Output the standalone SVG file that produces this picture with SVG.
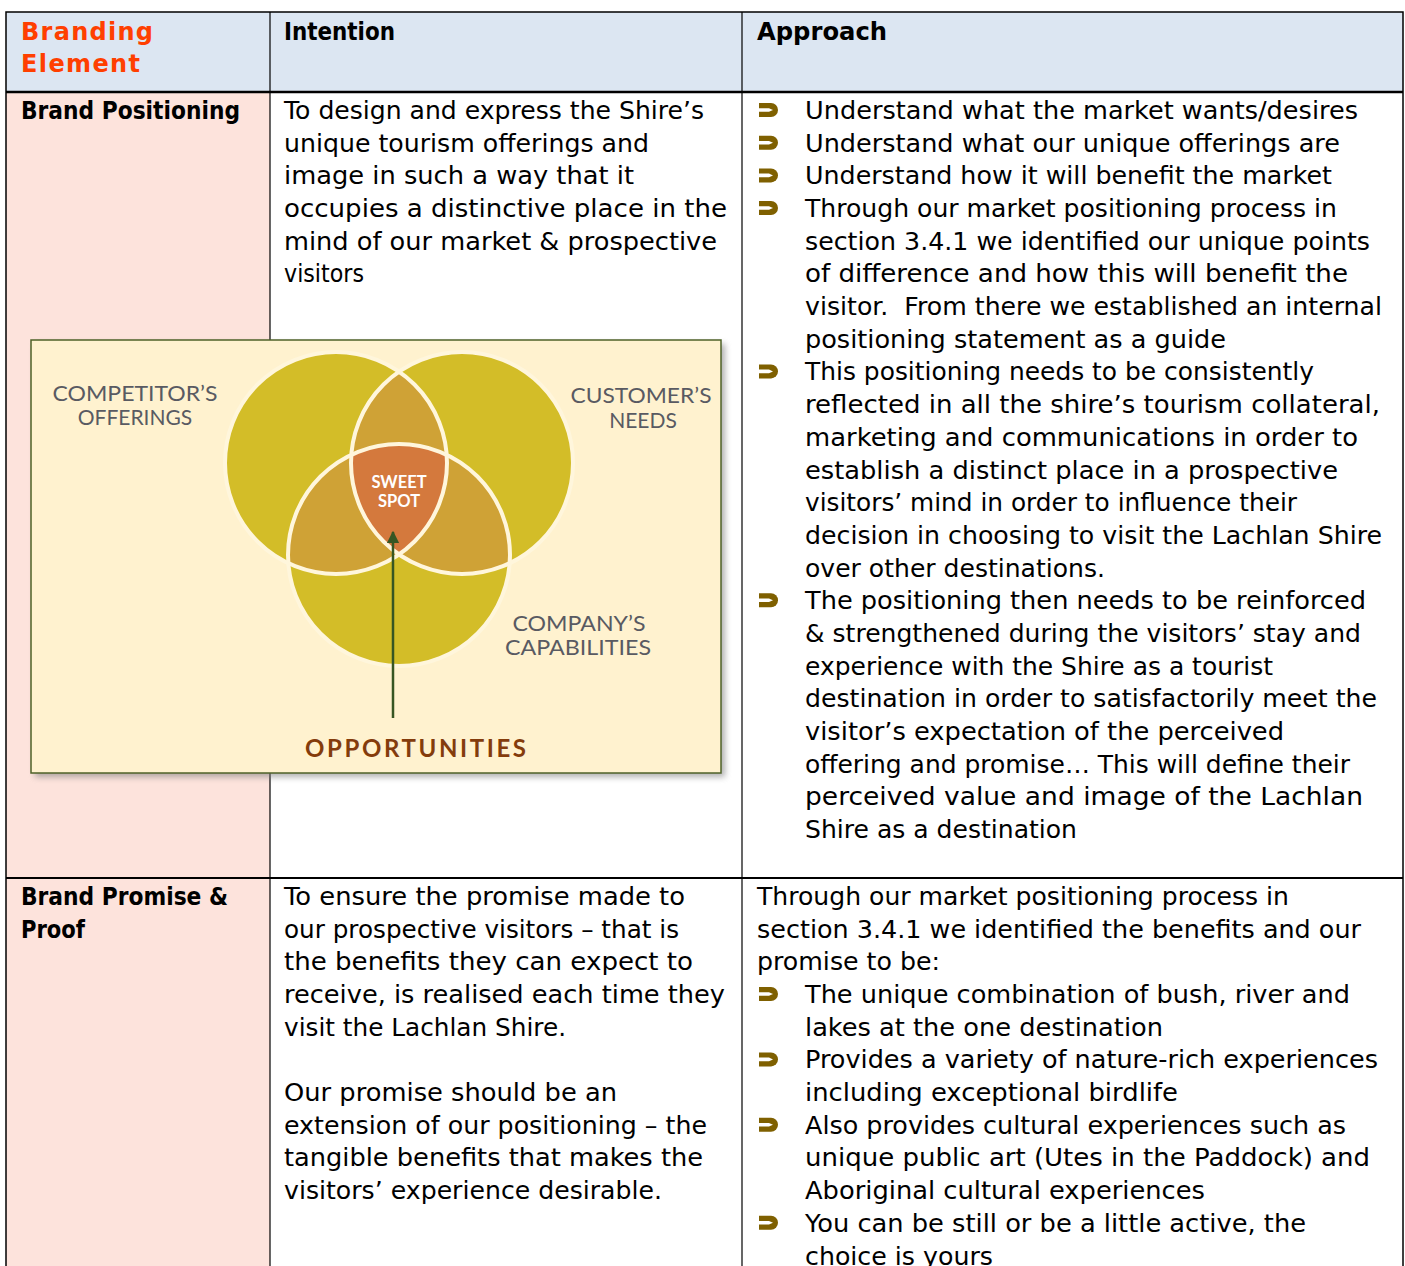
<svg xmlns="http://www.w3.org/2000/svg" width="1405" height="1266" viewBox="0 0 1405 1266">
<style>
.t{font-family:"DejaVu Sans",sans-serif;font-size:25px;fill:#000}
.b{font-family:"DejaVu Sans",sans-serif;font-size:24px;font-weight:bold;fill:#000}
.h{font-family:"DejaVu Sans",sans-serif;font-size:24px;font-weight:bold;fill:#FF3F00}
.v{font-family:Lato,"Liberation Sans",sans-serif;font-size:21px;fill:#595A62;text-anchor:middle}
.s{font-family:Lato,"Liberation Sans",sans-serif;font-size:16.5px;font-weight:bold;fill:#fff;text-anchor:middle}
.o{font-family:Lato,"Liberation Sans",sans-serif;font-size:24px;font-weight:bold;fill:#843C0C}
.grid{stroke:#000;fill:none}
</style>
<defs>
<g id="bul">
<path d="M0,0 H12 A7,7 0 0 1 12,14 H0 Z" fill="#7F6000"/>
<path d="M0,5.2 H10 L14,7 L10,8.8 H0 Z" fill="#fff"/>
</g>
<clipPath id="cL"><circle cx="336" cy="463" r="111"/></clipPath>
<clipPath id="cR"><circle cx="462" cy="463" r="111"/></clipPath>
<clipPath id="cB"><circle cx="399" cy="555" r="111"/></clipPath>
<filter id="sh" x="-5%" y="-5%" width="115%" height="120%"><feGaussianBlur stdDeviation="3"/></filter>
<marker id="ah" viewBox="0 0 10 10" refX="9" refY="5" markerWidth="5" markerHeight="5" orient="auto"><path d="M0,0 L10,5 L0,10 Z" fill="#375623"/></marker>
</defs>

<g id="backgrounds">
<rect x="6" y="12" width="1397" height="80" fill="#DCE6F2"/>
<rect x="6" y="92" width="264" height="1174" fill="#FDE3DC"/>
<rect x="270" y="92" width="1133" height="1174" fill="#fff"/>
</g>

<g id="connectors">
<rect x="6" y="12" width="1397" height="1260" class="grid" stroke-width="1.5"/>
<line x1="270" y1="12" x2="270" y2="1266" class="grid" stroke-width="1.2"/>
<line x1="742" y1="12" x2="742" y2="1266" class="grid" stroke-width="1.2"/>
<line x1="6" y1="92" x2="1403" y2="92" class="grid" stroke-width="2.5"/>
<line x1="6" y1="878" x2="1403" y2="878" class="grid" stroke-width="2"/>
</g>

<g id="header">
<text class="h" x="21" y="40" textLength="132" lengthAdjust="spacing">Branding</text>
<text class="h" x="21" y="72" textLength="119" lengthAdjust="spacing">Element</text>
<text class="b" x="284" y="40" textLength="111" lengthAdjust="spacingAndGlyphs">Intention</text>
<text class="b" x="757" y="40" textLength="130" lengthAdjust="spacingAndGlyphs">Approach</text>
</g>

<g id="row-positioning">
<text class="b" x="21" y="119" textLength="219" lengthAdjust="spacingAndGlyphs">Brand Positioning</text>
<g id="pos-intention">
<text class="t" x="284" y="119" textLength="420" lengthAdjust="spacingAndGlyphs">To design and express the Shire’s</text>
<text class="t" x="284" y="151.7" textLength="365" lengthAdjust="spacingAndGlyphs">unique tourism offerings and</text>
<text class="t" x="284" y="184.4" textLength="350" lengthAdjust="spacingAndGlyphs">image in such a way that it</text>
<text class="t" x="284" y="217" textLength="443" lengthAdjust="spacingAndGlyphs">occupies a distinctive place in the</text>
<text class="t" x="284" y="249.7" textLength="433" lengthAdjust="spacingAndGlyphs">mind of our market &amp; prospective</text>
<text class="t" x="284" y="282.4" textLength="80" lengthAdjust="spacingAndGlyphs">visitors</text>
</g>
<g id="pos-approach">
<use href="#bul" x="759" y="103"/>
<use href="#bul" x="759" y="135.7"/>
<use href="#bul" x="759" y="168.4"/>
<use href="#bul" x="759" y="201"/>
<use href="#bul" x="759" y="364.4"/>
<use href="#bul" x="759" y="593.2"/>
<text class="t" x="805" y="119" textLength="553" lengthAdjust="spacingAndGlyphs">Understand what the market wants/desires</text>
<text class="t" x="805" y="151.7" textLength="535" lengthAdjust="spacingAndGlyphs">Understand what our unique offerings are</text>
<text class="t" x="805" y="184.4" textLength="527" lengthAdjust="spacingAndGlyphs">Understand how it will benefit the market</text>
<text class="t" x="805" y="217" textLength="532" lengthAdjust="spacingAndGlyphs">Through our market positioning process in</text>
<text class="t" x="805" y="249.7" textLength="565" lengthAdjust="spacingAndGlyphs">section 3.4.1 we identified our unique points</text>
<text class="t" x="805" y="282.4" textLength="543" lengthAdjust="spacingAndGlyphs">of difference and how this will benefit the</text>
<text class="t" x="805" y="315.1" textLength="577" lengthAdjust="spacingAndGlyphs" xml:space="preserve">visitor.  From there we established an internal</text>
<text class="t" x="805" y="347.8" textLength="421" lengthAdjust="spacingAndGlyphs">positioning statement as a guide</text>
<text class="t" x="805" y="380.4" textLength="509" lengthAdjust="spacingAndGlyphs">This positioning needs to be consistently</text>
<text class="t" x="805" y="413.1" textLength="575" lengthAdjust="spacingAndGlyphs">reflected in all the shire’s tourism collateral,</text>
<text class="t" x="805" y="445.8" textLength="553" lengthAdjust="spacingAndGlyphs">marketing and communications in order to</text>
<text class="t" x="805" y="478.5" textLength="533" lengthAdjust="spacingAndGlyphs">establish a distinct place in a prospective</text>
<text class="t" x="805" y="511.2" textLength="492" lengthAdjust="spacingAndGlyphs">visitors’ mind in order to influence their</text>
<text class="t" x="805" y="543.8" textLength="577" lengthAdjust="spacingAndGlyphs">decision in choosing to visit the Lachlan Shire</text>
<text class="t" x="805" y="576.5" textLength="300" lengthAdjust="spacingAndGlyphs">over other destinations.</text>
<text class="t" x="805" y="609.2" textLength="561" lengthAdjust="spacingAndGlyphs">The positioning then needs to be reinforced</text>
<text class="t" x="805" y="641.9" textLength="556" lengthAdjust="spacingAndGlyphs">&amp; strengthened during the visitors’ stay and</text>
<text class="t" x="805" y="674.6" textLength="468" lengthAdjust="spacingAndGlyphs">experience with the Shire as a tourist</text>
<text class="t" x="805" y="707.2" textLength="572" lengthAdjust="spacingAndGlyphs">destination in order to satisfactorily meet the</text>
<text class="t" x="805" y="739.9" textLength="479" lengthAdjust="spacingAndGlyphs">visitor’s expectation of the perceived</text>
<text class="t" x="805" y="772.6" textLength="545" lengthAdjust="spacingAndGlyphs">offering and promise… This will define their</text>
<text class="t" x="805" y="805.3" textLength="558" lengthAdjust="spacingAndGlyphs">perceived value and image of the Lachlan</text>
<text class="t" x="805" y="838" textLength="272" lengthAdjust="spacingAndGlyphs">Shire as a destination</text>
</g>
</g>

<g id="venn">
<rect x="35" y="344" width="690" height="433" fill="#7a7a7a" opacity="0.6" filter="url(#sh)"/>
<rect x="31" y="340" width="690" height="433" fill="#FFF2CF" stroke="#4F6228" stroke-width="1.5"/>
<circle cx="336" cy="463" r="111" fill="#D3BD28"/>
<circle cx="462" cy="463" r="111" fill="#D3BD28"/>
<circle cx="399" cy="555" r="111" fill="#D3BD28"/>
<g clip-path="url(#cL)"><circle cx="462" cy="463" r="111" fill="#CFA236"/><circle cx="399" cy="555" r="111" fill="#CFA236"/></g>
<g clip-path="url(#cR)"><circle cx="399" cy="555" r="111" fill="#CFA236"/></g>
<g clip-path="url(#cL)"><g clip-path="url(#cR)"><circle cx="399" cy="555" r="111" fill="#D4793D"/></g></g>
<g fill="none" stroke="#FFF6DC" stroke-width="4">
<circle cx="336" cy="463" r="111"/>
<circle cx="462" cy="463" r="111"/>
<circle cx="399" cy="555" r="111"/>
</g>
<text class="v" x="135" y="401" textLength="165" lengthAdjust="spacingAndGlyphs">COMPETITOR’S</text>
<text class="v" x="135" y="425">OFFERINGS</text>
<text class="v" x="641" y="403" textLength="141" lengthAdjust="spacingAndGlyphs">CUSTOMER’S</text>
<text class="v" x="643" y="428">NEEDS</text>
<text class="v" x="579" y="631" textLength="133" lengthAdjust="spacingAndGlyphs">COMPANY’S</text>
<text class="v" x="578" y="655" textLength="146" lengthAdjust="spacingAndGlyphs">CAPABILITIES</text>
<text class="s" x="399" y="488">SWEET</text>
<text class="s" x="399" y="507">SPOT</text>
<line x1="393" y1="718" x2="393" y2="532" stroke="#375623" stroke-width="2.5" marker-end="url(#ah)"/>
<text class="o" x="305" y="757" textLength="221" lengthAdjust="spacing">OPPORTUNITIES</text>
</g>

<g id="row-promise">
<text class="b" x="21" y="905" textLength="207" lengthAdjust="spacingAndGlyphs">Brand Promise &amp;</text>
<text class="b" x="21" y="938" textLength="64" lengthAdjust="spacingAndGlyphs">Proof</text>
<g id="prom-intention">
<text class="t" x="284" y="905" textLength="401" lengthAdjust="spacingAndGlyphs">To ensure the promise made to</text>
<text class="t" x="284" y="937.7" textLength="395" lengthAdjust="spacingAndGlyphs">our prospective visitors – that is</text>
<text class="t" x="284" y="970.4" textLength="409" lengthAdjust="spacingAndGlyphs">the benefits they can expect to</text>
<text class="t" x="284" y="1003" textLength="441" lengthAdjust="spacingAndGlyphs">receive, is realised each time they</text>
<text class="t" x="284" y="1035.7" textLength="282" lengthAdjust="spacingAndGlyphs">visit the Lachlan Shire.</text>
<text class="t" x="284" y="1101.1" textLength="333" lengthAdjust="spacingAndGlyphs">Our promise should be an</text>
<text class="t" x="284" y="1133.8" textLength="423" lengthAdjust="spacingAndGlyphs">extension of our positioning – the</text>
<text class="t" x="284" y="1166.4" textLength="419" lengthAdjust="spacingAndGlyphs">tangible benefits that makes the</text>
<text class="t" x="284" y="1199.1" textLength="378" lengthAdjust="spacingAndGlyphs">visitors’ experience desirable.</text>
</g>
<g id="prom-approach">
<text class="t" x="757" y="905" textLength="532" lengthAdjust="spacingAndGlyphs">Through our market positioning process in</text>
<text class="t" x="757" y="937.7" textLength="604" lengthAdjust="spacingAndGlyphs">section 3.4.1 we identified the benefits and our</text>
<text class="t" x="757" y="970.4" textLength="183" lengthAdjust="spacingAndGlyphs">promise to be:</text>
<use href="#bul" x="759" y="987"/>
<use href="#bul" x="759" y="1052.4"/>
<use href="#bul" x="759" y="1117.8"/>
<use href="#bul" x="759" y="1215.8"/>
<text class="t" x="805" y="1003" textLength="545" lengthAdjust="spacingAndGlyphs">The unique combination of bush, river and</text>
<text class="t" x="805" y="1035.7" textLength="358" lengthAdjust="spacingAndGlyphs">lakes at the one destination</text>
<text class="t" x="805" y="1068.4" textLength="573" lengthAdjust="spacingAndGlyphs">Provides a variety of nature-rich experiences</text>
<text class="t" x="805" y="1101.1" textLength="373" lengthAdjust="spacingAndGlyphs">including exceptional birdlife</text>
<text class="t" x="805" y="1133.8" textLength="541" lengthAdjust="spacingAndGlyphs">Also provides cultural experiences such as</text>
<text class="t" x="805" y="1166.4" textLength="565" lengthAdjust="spacingAndGlyphs">unique public art (Utes in the Paddock) and</text>
<text class="t" x="805" y="1199.1" textLength="400" lengthAdjust="spacingAndGlyphs">Aboriginal cultural experiences</text>
<text class="t" x="805" y="1231.8" textLength="501" lengthAdjust="spacingAndGlyphs">You can be still or be a little active, the</text>
<text class="t" x="805" y="1264.5" textLength="188" lengthAdjust="spacingAndGlyphs">choice is yours</text>
</g>
</g>
</svg>
